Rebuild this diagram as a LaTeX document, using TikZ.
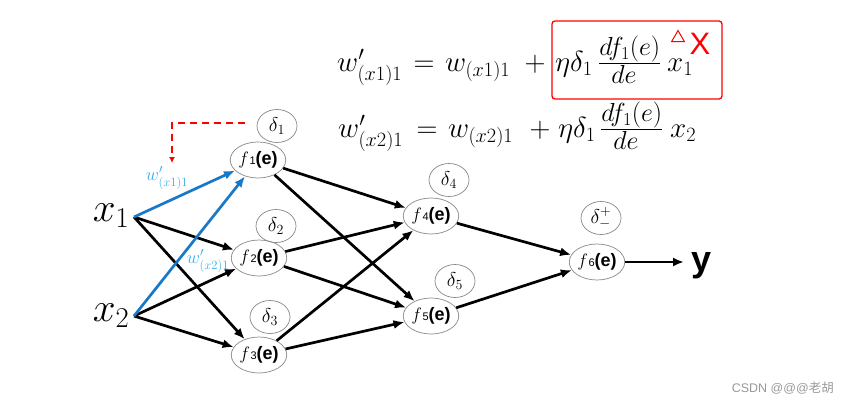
\documentclass[tikz,border=0pt]{standalone}
\usepackage{fontspec}
\usepackage{amsmath}
\usepackage{graphicx}
\setsansfont{Liberation Sans}
\newfontfamily\cjkfont{Noto Sans CJK SC}
\DeclareFontShape{OML}{cmm}{m}{it}{<-6>cmmi5<6-7>cmmi6<7-8>cmmi7<8-9>cmmi8<9-10>cmmi9<10-12>cmmi10<12->cmmi12}{}
\DeclareFontShape{OMS}{cmsy}{m}{n}{<-6>cmsy5<6-7>cmsy6<7-8>cmsy7<8-9>cmsy8<9-10>cmsy9<10->cmsy10}{}
\DeclareFontShape{OMX}{cmex}{m}{n}{<->cmex10}{}
\DeclareFontShape{OT1}{cmr}{m}{n}{<-6>cmr5<6-7>cmr6<7-8>cmr7<8-9>cmr8<9-10>cmr9<10-12>cmr10<12-17>cmr12<17->cmr17}{}
\usetikzlibrary{arrows.meta,shapes.geometric}
\definecolor{wblue}{HTML}{1A78C8}
\definecolor{lblue}{HTML}{3AAEE8}
\definecolor{cgray}{HTML}{888888}
\begin{document}
\begin{tikzpicture}[x=1pt,y=-1pt,
  fnode/.style={draw=cgray,line width=0.7pt,ellipse,minimum width=42pt,minimum height=36pt,inner sep=0pt,font=\fontsize{18}{18}\selectfont},
  dnode/.style={draw=cgray,line width=0.7pt,ellipse,minimum width=40pt,minimum height=33pt,inner sep=0pt,font=\fontsize{20}{20}\selectfont},
  conn/.style={line width=2.7pt,-{Latex[length=11pt,width=9pt]}},
  bconn/.style={conn,wblue},
  wlab/.style={text=lblue,font=\fontsize{18}{18}\selectfont,inner sep=0pt},
  eq/.style={anchor=base west,inner sep=0pt,font=\fontsize{29}{29}\selectfont},
  eqc/.style={eq,anchor=base}
]
\useasboundingbox (0,0) rectangle (845,404);
\newcommand{\fe}[1]{$f$\hspace{0.5pt}{\sffamily\fontsize{11}{11}\selectfont #1}\textsf{\textbf{(e)}}}
\newcommand{\dfe}{\genfrac{}{}{}{1}{\scalebox{0.9}{$df_1(e)$}}{\scalebox{0.9}{$de$}}}
% equation 1
\node[eq] (l1) at (337,71) {$w'_{(x1)1}$};
\node[eqc] (e1) at (424,71) {$=$};
\node[eq] (r1) at (445,71) {$w_{(x1)1}$};
\node[eqc] (p1) at (535,71) {$+$};
\node[eq] (h1) at (555,71) {$\eta\delta_1$};
\node[eq] (q1) at (598,71) {$\dfe$};
\node[eq] (v1) at (667,71) {$x_1$};
% equation 2
\node[eq] (l2) at (338,137) {$w'_{(x2)1}$};
\node[eqc] (e2) at (427,137) {$=$};
\node[eq] (r2) at (448,137) {$w_{(x2)1}$};
\node[eqc] (p2) at (540,137) {$+$};
\node[eq] (h2) at (558,137) {$\eta\delta_1$};
\node[eq] (q2) at (600,137) {$\dfe$};
\node[eq] (v2) at (670,137) {$x_2$};
% red box and mark
\node[draw=red,line width=1.3pt,rounded corners=3pt,minimum width=170pt,minimum height=78pt,inner sep=0pt] (box) at (637,60) {};
\node[draw=red,line width=1pt,regular polygon,regular polygon sides=3,minimum size=15pt,inner sep=0pt] (tri) at (678,38) {};
\node[text=red,font=\sffamily\fontsize{31}{31}\selectfont,inner sep=0pt] (X) at (700,44) {X};
% inputs
\node[font=\fontsize{41}{41}\selectfont,inner sep=0pt] (x1) at (111,216) {$x_1$};
\node[font=\fontsize{41}{41}\selectfont,inner sep=0pt] (x2) at (111,316) {$x_2$};
\coordinate (i1) at (134,217);
\coordinate (i2) at (134,316);
% nodes
\node[fnode] (f1) at (258,160) {\fe{1}};
\node[fnode] (f2) at (259,258) {\fe{2}};
\node[fnode] (f3) at (259,355) {\fe{3}};
\node[fnode] (f4) at (431,216) {\fe{4}};
\node[fnode] (f5) at (431,316) {\fe{5}};
\node[fnode] (f6) at (597,262) {\fe{6}};
\node[dnode] (d1) at (277,126) {$\delta_1$};
\node[dnode] (d2) at (276,226) {$\delta_2$};
\node[dnode] (d3) at (270,317) {$\delta_3$};
\node[dnode] (d4) at (449,180) {$\delta_4$};
\node[dnode] (d5) at (455,281) {$\delta_5$};
\node[dnode] (d6) at (601,218) {$\delta^{+}_{-}$};
\node[font=\sffamily\bfseries\fontsize{36}{36}\selectfont,inner sep=0pt] (y) at (701,266) {y};
\coordinate (yin) at (684,262);
% connectors
\draw[conn] (i1) -- (f2);
\draw[conn] (i1) -- (f3);
\draw[conn] (i2) -- (f2);
\draw[conn] (i2) -- (f3);
\draw[bconn] (i1) -- (f1);
\draw[bconn] (i2) -- (f1);
\foreach \a in {f1,f2,f3}{\foreach \b in {f4,f5}{\draw[conn] (\a) -- (\b);}}
\draw[conn] (f4) -- (f6);
\draw[conn] (f5) -- (f6);
\draw[conn] (f6) -- (yin);
% weight labels
\node[wlab] (w1) at (167,178) {$w'_{(x1)1}$};
\node[wlab] (w2) at (208,261) {$w'_{(x2)1}$};
% red dashed
\coordinate (ra) at (245,123);
\coordinate (rb) at (172,123);
\coordinate (rc) at (172,163);
\draw[red,line width=1.6pt,dash pattern=on 7pt off 5pt,-{Latex[length=6pt,width=6pt]}] (ra) -- (rb) -- (rc);
% watermark
\node[text=gray!80,font=\sffamily\fontsize{12.5}{12.5}\selectfont,anchor=east,inner sep=0pt] (wm) at (834,388) {CSDN @@@{\cjkfont 老胡}};
\end{tikzpicture}
\end{document}
